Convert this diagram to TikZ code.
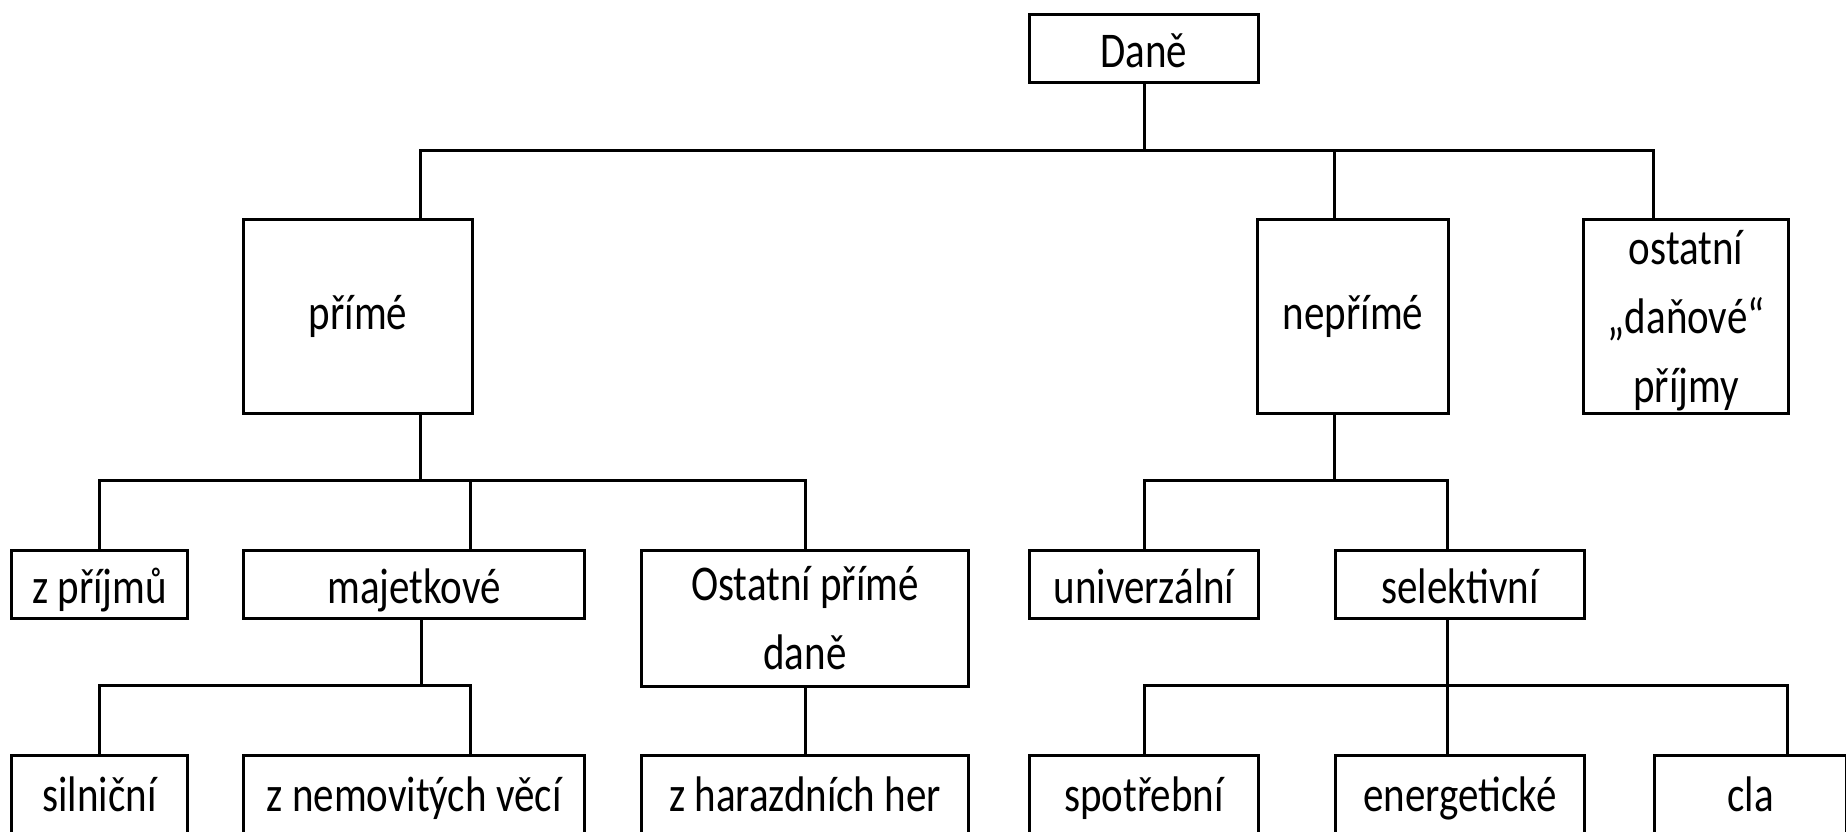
\documentclass[tikz,border=0pt]{standalone}
\usepackage{fontspec}
\setmainfont{Carlito}[FakeStretch=0.82]
\usetikzlibrary{calc}

\begin{document}
\begin{tikzpicture}[
    x=1pt, y=-1pt, % picture measured in pixels, top down
    line width=3pt,
    box/.style={draw, rectangle, inner sep=0pt, anchor=north west,
        font=\fontsize{50}{69}\selectfont, align=center}, % plain framed box
    onerow/.style={box, minimum height=68pt, text height=40pt, text depth=2pt}, % one line box
    lastrow/.style={box, minimum height=100pt, text height=40pt, text depth=28pt} % bottom row, cut by the frame
]

    % Frame of the picture
    \useasboundingbox (0,0) rectangle (1846,832);
    \clip (0,0) rectangle (1846,832);

    % Top
    \node[onerow, minimum width=229pt] (dane) at (1028,13) {Daně};

    % First level
    \node[box, minimum width=229pt, minimum height=194pt] (prime) at (242,218) {přímé};
    \node[box, minimum width=191pt, minimum height=194pt] (neprime) at (1256,218) {nepřímé};
    \node[box, minimum width=205pt, minimum height=194pt, text depth=0pt] (ostatni) at (1582,218) {ostatní\\„daňové“\\příjmy};

    % Second level
    \node[onerow, minimum width=176pt] (zprijmu) at (10,549) {z příjmů};
    \node[onerow, minimum width=341pt] (majetek) at (242,549) {majetkové};
    \node[box, minimum width=327pt, minimum height=136pt] (ostprime) at (640,549) {Ostatní přímé\\daně};
    \node[onerow, minimum width=229pt] (univ) at (1028,549) {univerzální};
    \node[onerow, minimum width=249pt] (selekt) at (1334,549) {selektivní};

    % Third level
    \node[lastrow, minimum width=176pt] (silnice) at (10,754) {silniční};
    \node[lastrow, minimum width=341pt] (nemovit) at (242,754) {z nemovitých věcí};
    \node[lastrow, minimum width=327pt] (hazard) at (640,754) {z harazdních her};
    \node[lastrow, minimum width=229pt] (spotreb) at (1028,754) {spotřební};
    \node[lastrow, minimum width=249pt] (energie) at (1334,754) {energetické};
    \node[lastrow, minimum width=192pt] (clo) at (1653,754) {cla};

    % Levels of the horizontal lines
    \coordinate (bus1) at (0,150);
    \coordinate (bus2) at (0,480);
    \coordinate (bus3) at (0,685);

    % Where the lines meet the boxes
    \coordinate (prime-in) at ([xshift=178pt]prime.north west);
    \coordinate (prime-out) at ([xshift=178pt]prime.south west);
    \coordinate (neprime-in) at ([xshift=78pt]neprime.north west);
    \coordinate (neprime-out) at ([xshift=78pt]neprime.south west);
    \coordinate (ostatni-in) at ([xshift=71pt]ostatni.north west);
    \coordinate (majetek-in) at ([xshift=228pt]majetek.north west);
    \coordinate (majetek-out) at ([xshift=179pt]majetek.south west);
    \coordinate (nemovit-in) at ([xshift=228pt]nemovit.north west);
    \coordinate (selekt-in) at ([xshift=113pt]selekt.north west);
    \coordinate (selekt-out) at ([xshift=113pt]selekt.south west);
    \coordinate (energie-in) at ([xshift=113pt]energie.north west);
    \coordinate (clo-in) at ([xshift=134pt]clo.north west);

    % Daně -> first level
    \draw (dane.south) -- (dane.south |- bus1);
    \draw (prime-in) |- (bus1 -| ostatni-in) -- (ostatni-in);
    \draw (neprime-in) -- (neprime-in |- bus1);

    % přímé -> second level
    \draw (prime-out) -- (prime-out |- bus2);
    \draw (zprijmu.north) |- (bus2 -| ostprime.north) -- (ostprime.north);
    \draw (majetek-in) -- (majetek-in |- bus2);

    % majetkové -> third level
    \draw (majetek-out) -- (majetek-out |- bus3);
    \draw (silnice.north) |- (bus3 -| nemovit-in) -- (nemovit-in);

    % Ostatní přímé daně -> hazard
    \draw (ostprime.south) -- (hazard.north);

    % nepřímé -> second level
    \draw (neprime-out) -- (neprime-out |- bus2);
    \draw (univ.north) |- (bus2 -| selekt-in) -- (selekt-in);

    % selektivní -> third level
    \draw (selekt-out) -- (energie-in);
    \draw (spotreb.north) |- (bus3 -| clo-in) -- (clo-in);

\end{tikzpicture}
\end{document}
